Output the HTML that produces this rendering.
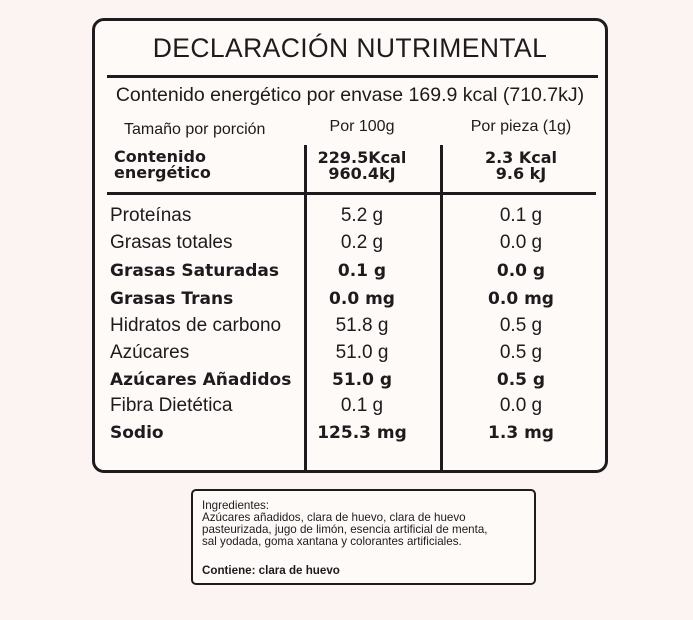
<!DOCTYPE html>
<html><head><meta charset="utf-8"><style>
body{margin:0;width:693px;height:620px;background:#fcf4f2;position:relative;overflow:hidden;font-family:"Liberation Sans",sans-serif;color:#1e1a1d}
.a{position:absolute;white-space:nowrap}
.box{position:absolute;left:92px;top:18px;width:510px;height:449px;border:3px solid #1e1a1d;border-radius:12px;background:#fefaf8}
.hl{position:absolute;background:#1e1a1d}
.r{position:absolute;font-size:19px;line-height:20px;white-space:nowrap}
.b{font-family:"DejaVu Sans",sans-serif;font-weight:bold;font-size:17px}
.c1{left:305px;width:114px;text-align:center}
.c2{left:442px;width:158px;text-align:center}
.l{left:110px}
</style></head><body>
<div class="box"></div>
<div class="a" style="left:92px;width:516px;top:33px;text-align:center;font-size:26.5px;letter-spacing:0.4px">DECLARACIÓN NUTRIMENTAL</div>
<div class="hl" style="left:107px;top:75px;width:491px;height:3px"></div>
<div class="a" style="left:92px;width:516px;top:84px;text-align:center;font-size:19.5px">Contenido energético por envase 169.9 kcal (710.7kJ)</div>
<div class="a" style="left:124px;top:121px;font-size:16px">Tamaño por porción</div>
<div class="a" style="left:305px;width:114px;text-align:center;top:118px;font-size:16px">Por 100g</div>
<div class="a" style="left:442px;width:158px;text-align:center;top:118px;font-size:16px">Por pieza (1g)</div>
<div class="a b" style="left:114px;top:149px;font-size:16px;line-height:16px">Contenido<br>energético</div>
<div class="a b" style="left:305px;width:114px;text-align:center;top:150px;font-size:16px;line-height:16px">229.5Kcal<br>960.4kJ</div>
<div class="a b" style="left:442px;width:158px;text-align:center;top:150px;font-size:16px;line-height:16px">2.3 Kcal<br>9.6 kJ</div>
<div class="hl" style="left:304px;top:145px;width:3px;height:325px"></div>
<div class="hl" style="left:440px;top:145px;width:3px;height:325px"></div>
<div class="hl" style="left:107px;top:192px;width:489px;height:3px"></div>

<div class="r l" style="top:206px">Proteínas</div><div class="r c1" style="top:206px">5.2 g</div><div class="r c2" style="top:206px">0.1 g</div>
<div class="r l" style="top:233px">Grasas totales</div><div class="r c1" style="top:233px">0.2 g</div><div class="r c2" style="top:233px">0.0 g</div>
<div class="r l b" style="top:261px">Grasas Saturadas</div><div class="r c1 b" style="top:261px">0.1 g</div><div class="r c2 b" style="top:261px">0.0 g</div>
<div class="r l b" style="top:289px">Grasas Trans</div><div class="r c1 b" style="top:289px">0.0 mg</div><div class="r c2 b" style="top:289px">0.0 mg</div>
<div class="r l" style="top:316px">Hidratos de carbono</div><div class="r c1" style="top:316px">51.8 g</div><div class="r c2" style="top:316px">0.5 g</div>
<div class="r l" style="top:343px">Azúcares</div><div class="r c1" style="top:343px">51.0 g</div><div class="r c2" style="top:343px">0.5 g</div>
<div class="r l b" style="top:370px">Azúcares Añadidos</div><div class="r c1 b" style="top:370px">51.0 g</div><div class="r c2 b" style="top:370px">0.5 g</div>
<div class="r l" style="top:396px">Fibra Dietética</div><div class="r c1" style="top:396px">0.1 g</div><div class="r c2" style="top:396px">0.0 g</div>
<div class="r l b" style="top:423px">Sodio</div><div class="r c1 b" style="top:423px">125.3 mg</div><div class="r c2 b" style="top:423px">1.3 mg</div>

<div style="position:absolute;left:191px;top:489px;width:341px;height:92px;border:2px solid #1e1a1d;border-radius:5px;background:#fefaf8"></div>
<div class="a" style="left:202px;top:500px;font-size:11.6px;line-height:12px">Ingredientes:<br>Azúcares añadidos, clara de huevo, clara de huevo<br>pasteurizada, jugo de limón, esencia artificial de menta,<br>sal yodada, goma xantana y colorantes artificiales.</div>
<div class="a" style="left:202px;top:564px;font-size:11.6px;font-weight:bold">Contiene: clara de huevo</div>
</body></html>
